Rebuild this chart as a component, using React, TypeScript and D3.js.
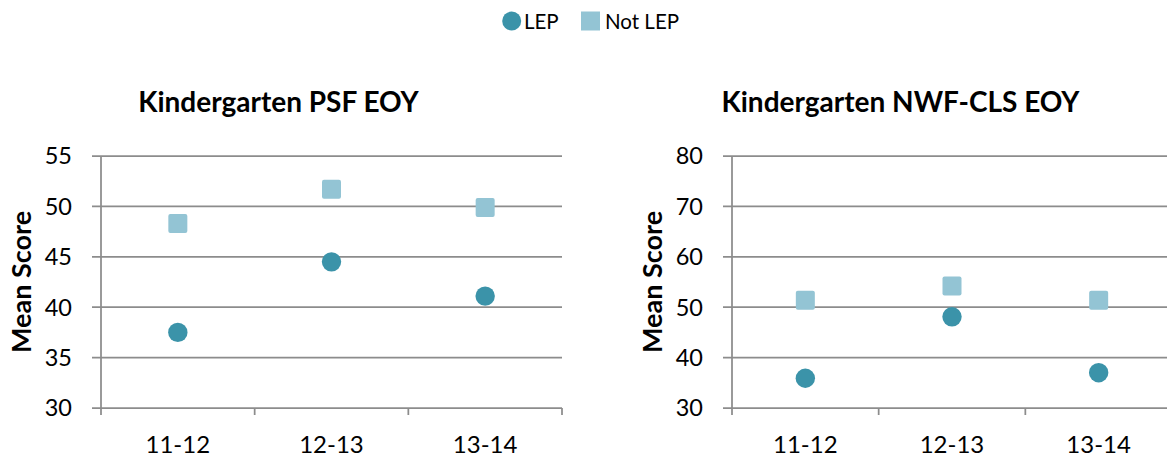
import React from "react";
import * as d3 from "d3";

const categories = ["11-12", "12-13", "13-14"];
const seriesNames = ["LEP", "Not LEP"];
const psfLep = [37.5, 44.5, 41.1];
const psfNotLep = [48.3, 51.7, 49.9];
const nwfLep = [35.9, 48.1, 37.0];
const nwfNotLep = [51.4, 54.2, 51.4];
const psfTicks = [30, 35, 40, 45, 50, 55];
const nwfTicks = [30, 40, 50, 60, 70, 80];
const titles = ["Kindergarten PSF EOY", "Kindergarten NWF-CLS EOY"];
const yTitle = "Mean Score";

const FONT = "Lato, 'Open Sans', sans-serif";
const LEP_COLOR = "#3b93a9";
const NOT_COLOR = "#93c4d4";
const GRID = "#8c8c8c";

type PanelProps = {
  x0: number;
  x1: number;
  titleX: number;
  title: string;
  ticks: number[];
  lep: number[];
  notLep: number[];
  yTitleX: number;
};

function Panel({ x0, x1, titleX, title, ticks, lep, notLep, yTitleX }: PanelProps) {
  const top = 156;
  const bottom = 408;
  const x = d3.scaleBand<string>().domain(categories).range([x0, x1]).padding(0);
  const y = d3
    .scaleLinear()
    .domain([ticks[0], ticks[ticks.length - 1]])
    .range([bottom, top]);
  const bw = x.bandwidth();
  const boundaries = categories.map((c) => x(c) as number).concat([x1]);
  const cx = (c: string) => (x(c) as number) + bw / 2;
  const sq = 19;
  return (
    <g>
      <text
        x={titleX}
        y={112}
        textAnchor="middle"
        fontFamily={FONT}
        fontWeight="bold"
        fontSize={28}
        fill="#000"
      >
        {title}
      </text>
      {ticks.map((t) => (
        <g key={t}>
          <line x1={x0 - 9} x2={x1} y1={y(t)} y2={y(t)} stroke={GRID} strokeWidth={1.75} />
          <text
            x={x0 - 29}
            y={y(t)}
            dy="0.36em"
            textAnchor="end"
            fontFamily={FONT}
            fontSize={23.5}
            fill="#000"
          >
            {t}
          </text>
        </g>
      ))}
      <line x1={x0} x2={x0} y1={top} y2={bottom + 7} stroke={GRID} strokeWidth={1.75} />
      {boundaries.slice(1).map((b, i) => (
        <line key={i} x1={b} x2={b} y1={bottom} y2={bottom + 7} stroke={GRID} strokeWidth={1.75} />
      ))}
      {categories.map((c) => (
        <text
          key={c}
          x={cx(c)}
          y={453}
          textAnchor="middle"
          fontFamily={FONT}
          fontSize={24}
          fill="#000"
        >
          {c}
        </text>
      ))}
      <text
        transform={`translate(${yTitleX},${(top + bottom) / 2}) rotate(-90)`}
        textAnchor="middle"
        fontFamily={FONT}
        fontWeight="bold"
        fontSize={27}
        fill="#000"
      >
        {yTitle}
      </text>
      {categories.map((c, i) => (
        <rect
          key={"s" + c}
          x={cx(c) - sq / 2}
          y={y(notLep[i]) - sq / 2}
          width={sq}
          height={sq}
          rx={2}
          fill={NOT_COLOR}
        />
      ))}
      {categories.map((c, i) => (
        <circle key={"c" + c} cx={cx(c)} cy={y(lep[i])} r={9.7} fill={LEP_COLOR} />
      ))}
    </g>
  );
}

export default function App() {
  return (
    <svg
      width={1167}
      height={459}
      style={{ position: "absolute", left: 0, top: 0, background: "#fff" }}
    >
      <rect width={1167} height={459} fill="#fff" />
      <g>
        <circle cx={511.7} cy={21} r={9.5} fill={LEP_COLOR} />
        <text x={524} y={28.5} fontFamily={FONT} fontSize={20.5} fill="#000">
          {seriesNames[0]}
        </text>
        <rect x={581} y={11.5} width={19} height={19} fill={NOT_COLOR} />
        <text x={605} y={28.5} fontFamily={FONT} fontSize={20.5} fill="#000">
          {seriesNames[1]}
        </text>
      </g>
      <Panel
        x0={101}
        x1={562}
        titleX={278.5}
        title={titles[0]}
        ticks={psfTicks}
        lep={psfLep}
        notLep={psfNotLep}
        yTitleX={31}
      />
      <Panel
        x0={732}
        x1={1172}
        titleX={900.5}
        title={titles[1]}
        ticks={nwfTicks}
        lep={nwfLep}
        notLep={nwfNotLep}
        yTitleX={662}
      />
    </svg>
  );
}
